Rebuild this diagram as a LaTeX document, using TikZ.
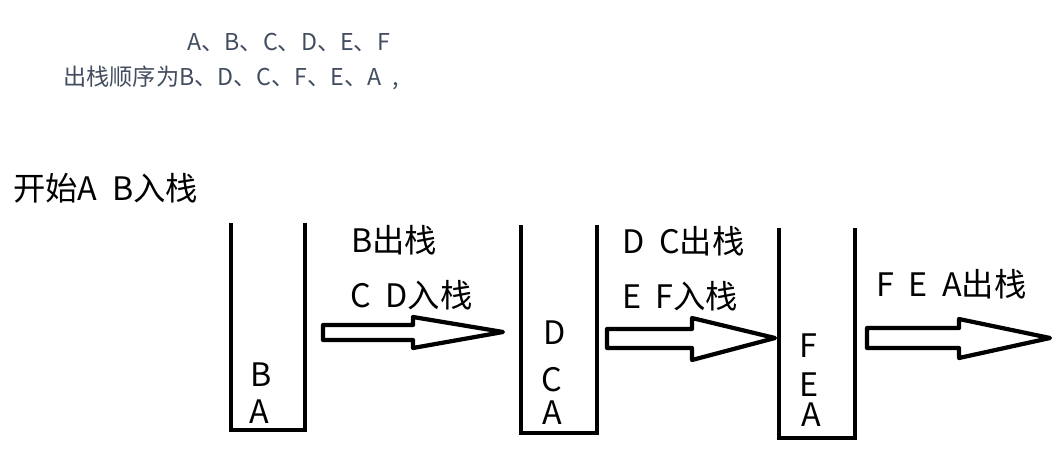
\documentclass[tikz,border=0pt]{standalone}
\usepackage{fontspec}
\setmainfont[WordSpace=2]{Noto Sans CJK SC}
\definecolor{notegray}{RGB}{66,78,96}

\begin{document}
\begin{tikzpicture}[line cap=round,line join=round,x=0.025cm,y=-0.025cm,
  wall/.style={line width=3.2pt,line cap=rect,line join=miter},
  bigarrow/.style={line width=3pt},
  note/.style={anchor=west,inner sep=0pt,color=notegray,font=\fontsize{16.5}{20}\selectfont},
  lbl/.style={anchor=west,inner sep=0pt,font=\fontsize{23}{27}\selectfont},
  elem/.style={inner sep=0pt,font=\fontsize{23}{27}\selectfont}]
\useasboundingbox (0,0) rectangle (1060,450);
\node[note] (order) at (187,42) {A、B、C、D、E、F};
\node[note] (popseq) at (63,78) {出栈顺序为B、D、C、F、E、A ,};
\node[lbl] (start) at (13,188) {开始A B入栈};
% the three stacks
\foreach \l/\r/\t/\b in {231/305/225/430,521/597/227/433,779/855/230/438}
\draw[wall] (\l,\t) -- (\l,\b) -- (\r,\b) -- (\r,\t);
\node[elem] (b1) at (261,375) {B};
\node[elem] (a1) at (259,412) {A};
\node[elem] (d2) at (555,333) {D};
\node[elem] (c2) at (552,380) {C};
\node[elem] (a2) at (552,413) {A};
\node[elem] (f3) at (808,346) {F};
\node[elem] (e3) at (809,385) {E};
\node[elem] (a3) at (811,415) {A};
% steps
\node[lbl] (pop1) at (351,240) {B出栈};
\node[lbl] (push1) at (350,295) {C D入栈};
\node[lbl] (pop2) at (622,241) {D C出栈};
\node[lbl] (push2) at (622,296) {E F入栈};
\node[lbl] (pop3) at (876,284) {F E A出栈};
\draw[bigarrow] (323,325) -- (413,325) -- (413,317) -- (503,332) -- (413,348) -- (413,340) -- (323,340) -- cycle;
\draw[bigarrow] (607,329) -- (692,329) -- (692,318) -- (775,338) -- (692,360) -- (692,348) -- (607,348) -- cycle;
\draw[bigarrow] (867,328) -- (959,328) -- (959,319) -- (1050,338) -- (959,358) -- (959,348) -- (867,348) -- cycle;
\end{tikzpicture}
\end{document}
